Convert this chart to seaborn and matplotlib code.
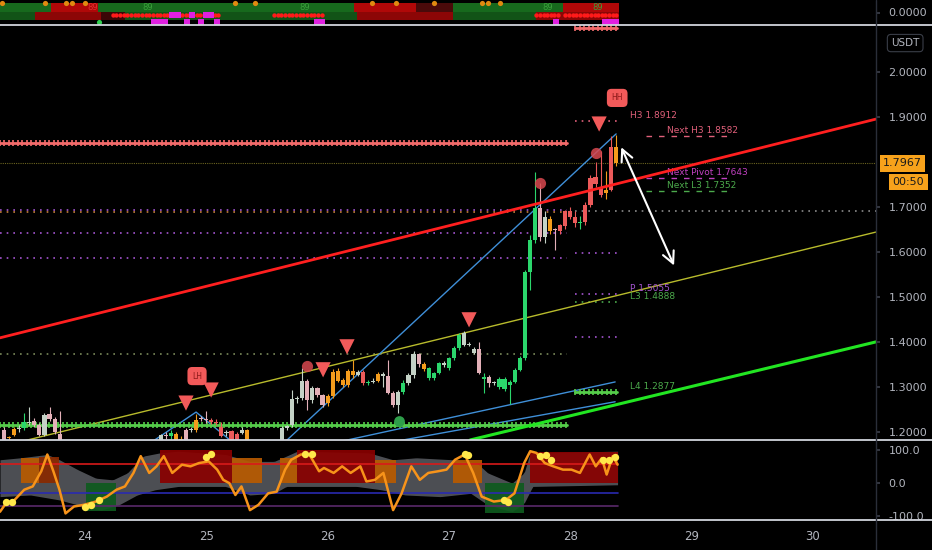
import numpy as np
import pandas as pd
import matplotlib
matplotlib.use("Agg")
import matplotlib.pyplot as plt
from matplotlib.patches import Rectangle, FancyArrowPatch
from matplotlib.lines import Line2D
import seaborn as sns

# ---- data (hourly bars, first bar on the 23rd at 08:00) ----
first_bar_hour = 8
bar_open = [1.204, 1.186, 1.193, 1.206, 1.209, 1.222, 1.224, 1.216, 1.193, 1.240,
            1.229, 1.196, 1.180, 1.165, 1.155, 1.160, 1.152, 1.145, 1.150, 1.160,
            1.155, 1.148, 1.152, 1.162, 1.168, 1.160, 1.166, 1.172, 1.165, 1.175,
            1.170, 1.180, 1.193, 1.190, 1.196, 1.184, 1.182, 1.204, 1.205, 1.229,
            1.229, 1.227, 1.222, 1.211, 1.198, 1.202, 1.196, 1.198, 1.204, 1.180,
            1.165, 1.158, 1.166, 1.160, 1.170, 1.176, 1.209, 1.216, 1.273, 1.276,
            1.313, 1.271, 1.298, 1.282, 1.264, 1.280, 1.335, 1.316, 1.305, 1.336,
            1.327, 1.333, 1.309, 1.311, 1.313, 1.329, 1.324, 1.287, 1.260, 1.289,
            1.309, 1.327, 1.373, 1.351, 1.320, 1.320, 1.331, 1.349, 1.342, 1.364,
            1.387, 1.393, 1.396, 1.384, 1.384, 1.318, 1.322, 1.309, 1.300, 1.296,
            1.304, 1.311, 1.338, 1.364, 1.556, 1.627, 1.698, 1.633, 1.673, 1.649,
            1.647, 1.658, 1.691, 1.678, 1.664, 1.667, 1.704, 1.766, 1.742, 1.730,
            1.738, 1.833]
bar_high = [1.210, 1.190, 1.210, 1.215, 1.243, 1.256, 1.230, 1.220, 1.243, 1.256,
            1.232, 1.247, 1.182, 1.175, 1.168, 1.172, 1.160, 1.158, 1.165, 1.170,
            1.162, 1.158, 1.166, 1.172, 1.176, 1.170, 1.178, 1.180, 1.178, 1.181,
            1.180, 1.196, 1.200, 1.205, 1.200, 1.190, 1.209, 1.210, 1.240, 1.235,
            1.247, 1.230, 1.228, 1.222, 1.205, 1.205, 1.200, 1.210, 1.206, 1.182,
            1.175, 1.170, 1.176, 1.174, 1.180, 1.212, 1.216, 1.293, 1.280, 1.342,
            1.318, 1.302, 1.300, 1.285, 1.285, 1.340, 1.342, 1.320, 1.340, 1.360,
            1.337, 1.337, 1.315, 1.320, 1.333, 1.332, 1.360, 1.290, 1.292, 1.315,
            1.330, 1.380, 1.375, 1.356, 1.345, 1.334, 1.356, 1.357, 1.367, 1.390,
            1.420, 1.424, 1.400, 1.388, 1.400, 1.330, 1.326, 1.314, 1.322, 1.322,
            1.315, 1.342, 1.368, 1.560, 1.638, 1.778, 1.753, 1.690, 1.680, 1.652,
            1.662, 1.693, 1.700, 1.690, 1.680, 1.710, 1.770, 1.800, 1.825, 1.780,
            1.858, 1.860]
bar_low = [1.170, 1.172, 1.190, 1.200, 1.205, 1.215, 1.210, 1.190, 1.190, 1.225,
           1.195, 1.170, 1.160, 1.150, 1.142, 1.150, 1.138, 1.135, 1.144, 1.150,
           1.140, 1.140, 1.148, 1.155, 1.158, 1.152, 1.160, 1.162, 1.160, 1.165,
           1.160, 1.170, 1.185, 1.185, 1.170, 1.175, 1.180, 1.200, 1.200, 1.225,
           1.220, 1.218, 1.215, 1.188, 1.190, 1.178, 1.175, 1.195, 1.170, 1.160,
           1.150, 1.148, 1.155, 1.152, 1.162, 1.170, 1.205, 1.210, 1.265, 1.270,
           1.249, 1.265, 1.278, 1.255, 1.258, 1.275, 1.310, 1.300, 1.300, 1.320,
           1.325, 1.305, 1.305, 1.308, 1.310, 1.300, 1.285, 1.255, 1.243, 1.285,
           1.305, 1.320, 1.345, 1.336, 1.315, 1.316, 1.328, 1.345, 1.338, 1.360,
           1.383, 1.390, 1.390, 1.372, 1.328, 1.287, 1.300, 1.305, 1.296, 1.290,
           1.262, 1.308, 1.335, 1.360, 1.516, 1.620, 1.625, 1.620, 1.640, 1.604,
           1.640, 1.650, 1.672, 1.655, 1.650, 1.660, 1.700, 1.745, 1.722, 1.718,
           1.735, 1.790]
bar_close = [1.180, 1.188, 1.206, 1.209, 1.222, 1.220, 1.216, 1.193, 1.238, 1.229,
             1.200, 1.180, 1.165, 1.155, 1.160, 1.152, 1.145, 1.150, 1.160, 1.155,
             1.148, 1.152, 1.162, 1.168, 1.160, 1.166, 1.172, 1.165, 1.175, 1.170,
             1.176, 1.193, 1.190, 1.198, 1.180, 1.181, 1.204, 1.207, 1.227, 1.231,
             1.227, 1.222, 1.220, 1.191, 1.200, 1.182, 1.182, 1.204, 1.180, 1.165,
             1.158, 1.166, 1.160, 1.170, 1.176, 1.209, 1.214, 1.273, 1.276, 1.313,
             1.271, 1.298, 1.282, 1.260, 1.280, 1.333, 1.313, 1.305, 1.336, 1.327,
             1.333, 1.309, 1.311, 1.313, 1.329, 1.324, 1.287, 1.260, 1.289, 1.309,
             1.327, 1.373, 1.351, 1.340, 1.342, 1.331, 1.353, 1.353, 1.364, 1.387,
             1.416, 1.420, 1.394, 1.376, 1.331, 1.322, 1.309, 1.311, 1.318, 1.318,
             1.311, 1.338, 1.364, 1.556, 1.627, 1.698, 1.633, 1.678, 1.647, 1.649,
             1.660, 1.691, 1.678, 1.664, 1.667, 1.704, 1.764, 1.751, 1.727, 1.738,
             1.833, 1.7967]
# bar colour class: g green, w pale, p pink, r red, o orange (10 bars per chunk)
bar_state = "".join([
    "poowgwppwp", "pprrwprwgp", "rwggpwgpwp", "wwpgoopwop", "prrrwrrwor",
    "pwpwwwwwww", "pwppoooooo", "wrgwowppwg", "wwpogggwgg", "gwwwpgpwgg",
    "ggggggpwop", "rrrrgrrrro", "ro",
])

# trend lines: (t0, p0, t1, p1)
red_trend = (23.30, 1.409, 30.52, 1.895)
yellow_trend = (23.30, 1.167, 30.52, 1.644)
green_trend = (27.175, 1.182, 30.52, 1.400)
blue_zigzag_t = [24.553, 24.916, 25.213]
blue_zigzag_p = [1.178, 1.244, 1.178]
blue_lines = [(25.65, 1.178, 28.378, 1.862),
              (26.095, 1.178, 28.37, 1.311),
              (26.54, 1.178, 28.37, 1.267)]

# pivot levels
level_end_day = 27.974
short_start, short_end = 28.04, 28.387
pivot_levels = [1.8912, 1.598, 1.5055, 1.4888, 1.411]
pivot_names = ["H3 1.8912", None, "P 1.5055", "L3 1.4888", None]
next_levels = [1.8582, 1.7643, 1.7352]
next_names = ["Next H3 1.8582", "Next Pivot 1.7643", "Next L3 1.7352"]
l4_level = 1.2877
price_now = 1.7967

# signals
sell_t = [24.833, 25.040, 25.963, 26.160, 27.166, 28.238]
sell_p = [1.264, 1.293, 1.338, 1.389, 1.449, 1.884]
dot_t = [25.831, 27.752, 28.213]
dot_p = [1.347, 1.753, 1.820]
arrow_from = (28.411, 1.838)
arrow_to = (28.865, 1.564)

# oscillator line
osc_t = [23.30, 23.35, 23.42, 23.50, 23.57, 23.64, 23.69, 23.74, 23.79, 23.84,
         23.91, 23.99, 24.09, 24.18, 24.26, 24.33, 24.40, 24.46, 24.53, 24.59,
         24.65, 24.72, 24.80, 24.87, 24.94, 25.02, 25.09, 25.14, 25.19, 25.24,
         25.29, 25.36, 25.43, 25.51, 25.58, 25.65, 25.70, 25.78, 25.85, 25.93,
         25.97, 26.05, 26.12, 26.19, 26.27, 26.32, 26.39, 26.46, 26.54, 26.61,
         26.69, 26.76, 26.83, 26.91, 26.98, 27.05, 27.13, 27.20, 27.27, 27.37,
         27.47, 27.54, 27.62, 27.67, 27.72, 27.79, 27.86, 27.94, 28.01, 28.08,
         28.16, 28.21, 28.26, 28.30, 28.35, 28.39]
osc_v = [-87, -61, -51, -20, -10, 36, 87, 36, -20, -92,
         -71, -66, -56, -41, -20, -10, 31, 82, 31, 51,
         82, 31, 56, 51, 61, 66, 41, 10, 0, -36,
         -10, -82, -66, -31, -26, 41, 71, 87, 87, 36,
         46, 31, 51, 31, 51, 5, 10, 31, -82, -31,
         51, 10, 31, 36, 41, 71, 87, 31, -41, -56,
         -51, -31, 61, 97, 92, 61, 51, 41, 41, 31,
         87, 51, 76, 26, 82, 56]
band_up_t = [23.30, 23.47, 23.69, 23.79, 23.94, 24.09, 24.23, 24.35, 24.48, 24.62,
             24.77, 25.16, 25.36, 25.56, 25.66, 25.75, 26.34, 26.54, 26.73, 27.03,
             27.23, 27.32, 27.52, 27.62, 27.67, 28.39]
band_up_v = [71, 77, 87, 71, 41, 15, 10, 31, 82, 92,
             97, 87, 66, 66, 82, 97, 92, 71, 77, 71,
             61, 31, 0, 31, 92, 97]
band_lo_t = [23.30, 23.55, 23.79, 23.94, 24.13, 24.28, 24.43, 24.58, 24.77, 25.16,
             25.36, 25.56, 25.66, 25.85, 26.24, 26.44, 26.64, 26.93, 27.18, 27.32,
             27.52, 27.62, 27.69, 28.39]
band_lo_v = [-41, -36, -51, -66, -82, -66, -36, -20, -10, -10,
             -36, -31, -10, -10, -10, -20, -36, -41, -31, -66,
             -87, -61, -10, -5]
# zones: start, end, top, kind
osc_zones = [(23.47, 23.62, 75, "o"), (23.62, 23.79, 80, "d"),
             (24.01, 24.26, -85, "g"), (24.62, 25.21, 100, "r"),
             (25.21, 25.46, 75, "o"), (25.61, 25.75, 75, "o"),
             (25.75, 26.39, 100, "r"), (26.39, 26.56, 70, "o"),
             (27.03, 27.27, 70, "o"), (27.30, 27.62, -90, "g"),
             (27.67, 28.39, 95, "r")]
osc_hot_t = [23.35, 23.40, 24.00, 24.05, 24.12, 25.00, 25.04, 25.81, 25.87,
             27.13, 27.16, 27.45, 27.49, 27.75, 27.80, 27.84, 28.27, 28.32, 28.37]
osc_hot_v = [-56, -56, -71, -66, -50, 80, 87, 87, 87,
             87, 85, -51, -56, 82, 85, 70, 70, 70, 80]

# top strip segments
strip_up = [(23.30, 23.72, "g"), (23.72, 24.11, "r"), (24.11, 26.22, "g"),
            (26.22, 26.73, "r"), (26.73, 27.03, "d"), (27.03, 27.94, "g"),
            (27.94, 28.40, "r")]
strip_lo = [(23.30, 23.59, "g"), (23.59, 24.13, "r"), (24.13, 24.33, "d"),
            (24.33, 26.24, "g"), (26.24, 27.03, "r"), (27.03, 27.72, "g"),
            (27.72, 28.40, "r")]
strip_red_runs = [(24.23, 25.12), (25.56, 25.97), (27.72, 27.91), (27.96, 28.40)]
strip_mag_t = [24.57, 24.62, 24.66, 24.72, 24.77, 24.84, 24.88, 24.96, 25.00,
               25.04, 25.09, 25.91, 25.95, 27.88, 28.29, 28.33, 28.38]
strip_mag_v = [0.12, 0.12, 0.12, 0.40, 0.40, 0.12, 0.40, 0.12, 0.40,
               0.40, 0.12, 0.12, 0.12, 0.12, 0.12, 0.12, 0.12]
strip_orange_t = [23.32, 23.67, 23.84, 23.89, 24.00, 25.24, 25.40, 26.37, 26.56,
                  26.88, 27.27, 27.32, 27.42]
strip_89_t = [24.06, 24.52, 25.81, 27.81, 28.23]

day_ticks = [24, 25, 26, 27, 28, 29, 30]
price_ticks = [1.2, 1.3, 1.4, 1.5, 1.6, 1.7, 1.9, 2.0]
X_MIN, X_MAX = 23.30, 30.52

# ---- styling ----
sns.set_theme(style="dark", rc={
    "figure.facecolor": "#000000",
    "axes.facecolor": "#000000",
    "axes.edgecolor": "#000000",
    "text.color": "#b2b5be",
    "xtick.color": "#b2b5be",
    "ytick.color": "#b2b5be",
})
plt.rcParams["font.family"] = ["DejaVu Sans"]

BAR_COLORS = {"g": "#2bd66c", "w": "#c4d2c6", "p": "#e3b0b8", "r": "#ec5a5a", "o": "#f49c1c"}
W, H = 932, 550

fig = plt.figure(figsize=(W / 100, H / 100), dpi=100)


def panel(top, bottom):
    return [0, 1 - bottom / H, 876 / W, (bottom - top) / H]


ax_top = fig.add_axes(panel(0, 25))
ax = fig.add_axes(panel(25, 440))
ax_osc = fig.add_axes(panel(440, 520))
for a in (ax_top, ax, ax_osc):
    a.set_xlim(X_MIN, X_MAX)
    a.grid(False)
    a.set_facecolor("#000000")
    for s in a.spines.values():
        s.set_visible(False)
    a.yaxis.tick_right()
    a.tick_params(axis="y", length=3, color="#3a3e48", labelsize=8, pad=6)
    a.tick_params(axis="x", length=0)

# ---- main panel ----
ax.set_ylim(1.182, 2.104)
t_bars = 23 + (first_bar_hour + np.arange(len(bar_open))) / 24
df = pd.DataFrame({"t": t_bars, "o": bar_open, "h": bar_high, "l": bar_low,
                   "c": bar_close, "s": list(bar_state)})
cols = df["s"].map(BAR_COLORS)
body = (df["c"] - df["o"]).where((df["c"] - df["o"]).abs() > 0.002, 0.002)
ax.vlines(df["t"], df["l"], df["h"], colors=cols, lw=0.8, zorder=3)
ax.bar(df["t"], body, bottom=df["o"], width=0.034, color=cols, lw=0,
       edgecolor="none", zorder=4)


def seg(a, t0, p0, t1, p1, **kw):
    a.plot([t0, t1], [p0, p1], **kw)


seg(ax, *red_trend, color="#ff1f1f", lw=2.0, zorder=5)
seg(ax, *yellow_trend, color="#b8bb2c", lw=1.0, zorder=2)
seg(ax, *green_trend, color="#22e622", lw=2.2, zorder=5)
ax.plot(blue_zigzag_t, blue_zigzag_p, color="#3f8fd8", lw=1.0, zorder=2)
for b in blue_lines:
    seg(ax, *b, color="#3f8fd8", lw=1.0, zorder=2)


def plus_line(a, t0, t1, p, color):
    a.plot([t0, t1], [p, p], color=color, lw=2.0, zorder=2)
    xs = np.arange(t0, t1, 0.037)
    a.plot(xs, np.full(len(xs), p), ls="none", marker="|", ms=5, mew=1.2,
           color=color, zorder=2)


plus_line(ax, X_MIN, level_end_day, 1.842, "#f26b6b")
plus_line(ax, X_MIN, level_end_day, 1.216, "#55cc4a")
plus_line(ax, short_start, short_end, 2.098, "#f26b6b")
plus_line(ax, short_start, short_end, l4_level, "#55cc4a")

dot = (0, (1, 3))
ax.plot([X_MIN, X_MAX], [price_now] * 2, color="#6b6420", lw=0.8, ls=(0, (1, 1)), zorder=1)
ax.plot([X_MIN, level_end_day], [1.694] * 2, color="#a455d0", lw=1.2, ls=dot, zorder=1)
ax.plot([X_MIN, level_end_day], [1.689] * 2, color="#c8803c", lw=1.2, ls=dot, zorder=1)
ax.plot([short_start, X_MAX], [1.690] * 2, color="#8c8c8c", lw=1.2, ls=dot, zorder=1)
ax.plot([X_MIN, level_end_day], [1.641] * 2, color="#a455d0", lw=1.2, ls=dot, zorder=1)
ax.plot([X_MIN, level_end_day], [1.587] * 2, color="#a455d0", lw=1.2, ls=dot, zorder=1)
ax.plot([X_MIN, level_end_day], [1.374] * 2, color="#7a8a5a", lw=1.2, ls=dot, zorder=1)

piv_colors = ["#e0607a", "#a455d0", "#a455d0", "#4caa4c", "#a455d0"]
for p, name, c in zip(pivot_levels, pivot_names, piv_colors):
    ax.plot([short_start, short_end], [p, p], color=c, lw=1.2, ls=dot, zorder=1)
    if name:
        ax.annotate(name, (28.49, p), xytext=(0, 4), textcoords="offset points",
                    color=c, fontsize=6.5, va="center", ha="left")
ax.annotate("L4 1.2877", (28.49, l4_level), xytext=(0, 4), textcoords="offset points",
            color="#4caa4c", fontsize=6.5, va="center", ha="left")
next_colors = ["#e0607a", "#c040c0", "#4caa4c"]
for p, name, c in zip(next_levels, next_names, next_colors):
    ax.plot([28.625, 29.343], [p, p], color=c, lw=1.0, ls=(0, (4, 5)), zorder=1)
    ax.annotate(name, (28.80, p), xytext=(0, 4), textcoords="offset points",
                color=c, fontsize=6.5, va="center", ha="left")

sns.scatterplot(x=sell_t, y=sell_p, marker="v", s=120, color="#f25a5a",
                edgecolor="none", ax=ax, zorder=6)
ax.scatter(dot_t, dot_p, s=65, color="#d9484f", alpha=0.85, lw=0, zorder=6)
ax.scatter([26.589], [1.224], s=60, color="#2e9e4a", lw=0, zorder=6)
for t, p, txt in [(24.924, 1.324, "LH"), (28.387, 1.942, "HH")]:
    ax.annotate(txt, (t, p), ha="center", va="center", fontsize=5.5, color="#8b1a1a",
                bbox=dict(boxstyle="round,pad=0.6", fc="#f25a5a", ec="none"), zorder=7)
ax.add_patch(FancyArrowPatch(arrow_from, arrow_to,
                             arrowstyle="<->,head_length=0.7,head_width=0.35",
                             color="white", lw=1.5, zorder=8, mutation_scale=12))

ax.set_yticks(price_ticks)
ax.set_yticklabels([f"{v:.4f}" for v in price_ticks])
ax.set_xticks([])
ax.annotate(f"{price_now:.4f}", xy=(1.0, price_now), xycoords=("axes fraction", "data"),
            xytext=(5, 0), textcoords="offset points", ha="left", va="center",
            fontsize=8, color="#1a1a1a", annotation_clip=False, zorder=10,
            bbox=dict(boxstyle="square,pad=0.3", fc="#f7a21b", ec="none"))
ax.annotate("00:50", xy=(1.0, price_now), xycoords=("axes fraction", "data"),
            xytext=(12, -13.5), textcoords="offset points", ha="left", va="center",
            fontsize=8, color="#1a1a1a", annotation_clip=False, zorder=10,
            bbox=dict(boxstyle="square,pad=0.3", fc="#f7a21b", ec="none"))
ax.annotate("USDT", xy=(1.0, 1.0), xycoords="axes fraction", xytext=(21, -13),
            textcoords="offset points", ha="center", va="center", fontsize=7.5,
            color="#b2b5be", annotation_clip=False,
            bbox=dict(boxstyle="round,pad=0.35", fc="#000000", ec="#3a3e48", lw=0.8))

# ---- top strip ----
ax_top.set_ylim(0, 1)
STRIP = {"g": "#17691d", "r": "#b00808", "d": "#4a0a0a"}
for t0, t1, k in strip_up:
    ax_top.add_patch(Rectangle((t0, 0.52), t1 - t0, 0.38, color=STRIP[k], lw=0))
for t0, t1, k in strip_lo:
    ax_top.add_patch(Rectangle((t0, 0.22), t1 - t0, 0.30, color=STRIP[k], alpha=0.8, lw=0))
for t0, t1 in strip_red_runs:
    xs = np.arange(t0, t1, 0.03)
    ax_top.scatter(xs, np.full(len(xs), 0.40), s=10, color="#ff1a1a", lw=0, zorder=3)
ax_top.scatter(strip_mag_t, strip_mag_v, s=22, marker="s", color="#e020e0", lw=0, zorder=4)
ax_top.scatter(strip_orange_t, np.full(len(strip_orange_t), 0.88), s=14, color="#e08a10", lw=0, zorder=4)
ax_top.scatter([24.12], [0.12], s=14, color="#30d050", lw=0, zorder=4)
for i, t in enumerate(strip_89_t):
    ax_top.text(t, 0.68, "89", color="#e03030" if i == 0 else "#3ba03b",
                fontsize=6, ha="center", va="center", zorder=5)
ax_top.set_yticks([0.5])
ax_top.set_yticklabels(["0.0000"])
ax_top.set_xticks([])

# ---- oscillator ----
ax_osc.set_ylim(-112, 131)
grid_t = np.linspace(X_MIN, 28.39, 300)
ax_osc.fill_between(grid_t, np.interp(grid_t, band_lo_t, band_lo_v),
                    np.interp(grid_t, band_up_t, band_up_v),
                    color="#5a5d63", alpha=0.85, lw=0, zorder=1)
ZONE = {"o": "#b85a00", "d": "#8a2a00", "r": "#8a0000", "g": "#0e5a1e"}
for t0, t1, top, k in osc_zones:
    ax_osc.add_patch(Rectangle((t0, 0), t1 - t0, top, color=ZONE[k], alpha=0.92, lw=0, zorder=2))
ax_osc.plot([X_MIN, 28.39], [58, 58], color="#d81a1a", lw=1.2, zorder=3)
ax_osc.plot([X_MIN, 28.39], [-31, -31], color="#2a2ab0", lw=1.2, zorder=3)
ax_osc.plot([X_MIN, 28.39], [-68, -68], color="#5a2a6a", lw=1.2, zorder=3)
sns.lineplot(x=osc_t, y=osc_v, ax=ax_osc, color="#f7931a", lw=1.8, zorder=4)
ax_osc.scatter(osc_hot_t, osc_hot_v, s=28, color="#ffe84a", lw=0, zorder=5)
ax_osc.set_yticks([100, 0, -100])
ax_osc.set_yticklabels(["100.0", "0.0", "-100.0"])
ax_osc.set_xticks(day_ticks)
ax_osc.set_xticklabels([str(d) for d in day_ticks])
ax_osc.tick_params(axis="x", labelsize=8.5, pad=7)
ax_osc.set_xlim(X_MIN, X_MAX)
ax_osc.set_xlabel("")
ax_osc.set_ylabel("")

# ---- separators ----
for ypx in (25, 440, 520):
    fig.add_artist(Line2D([0, 1], [1 - ypx / H] * 2, transform=fig.transFigure,
                          color="#d1d4dc", lw=1.3))
fig.add_artist(Line2D([876 / W] * 2, [0, 1], transform=fig.transFigure,
                      color="#2a2e39", lw=1.0))

fig.savefig("out.png", dpi=100, facecolor="#000000")
